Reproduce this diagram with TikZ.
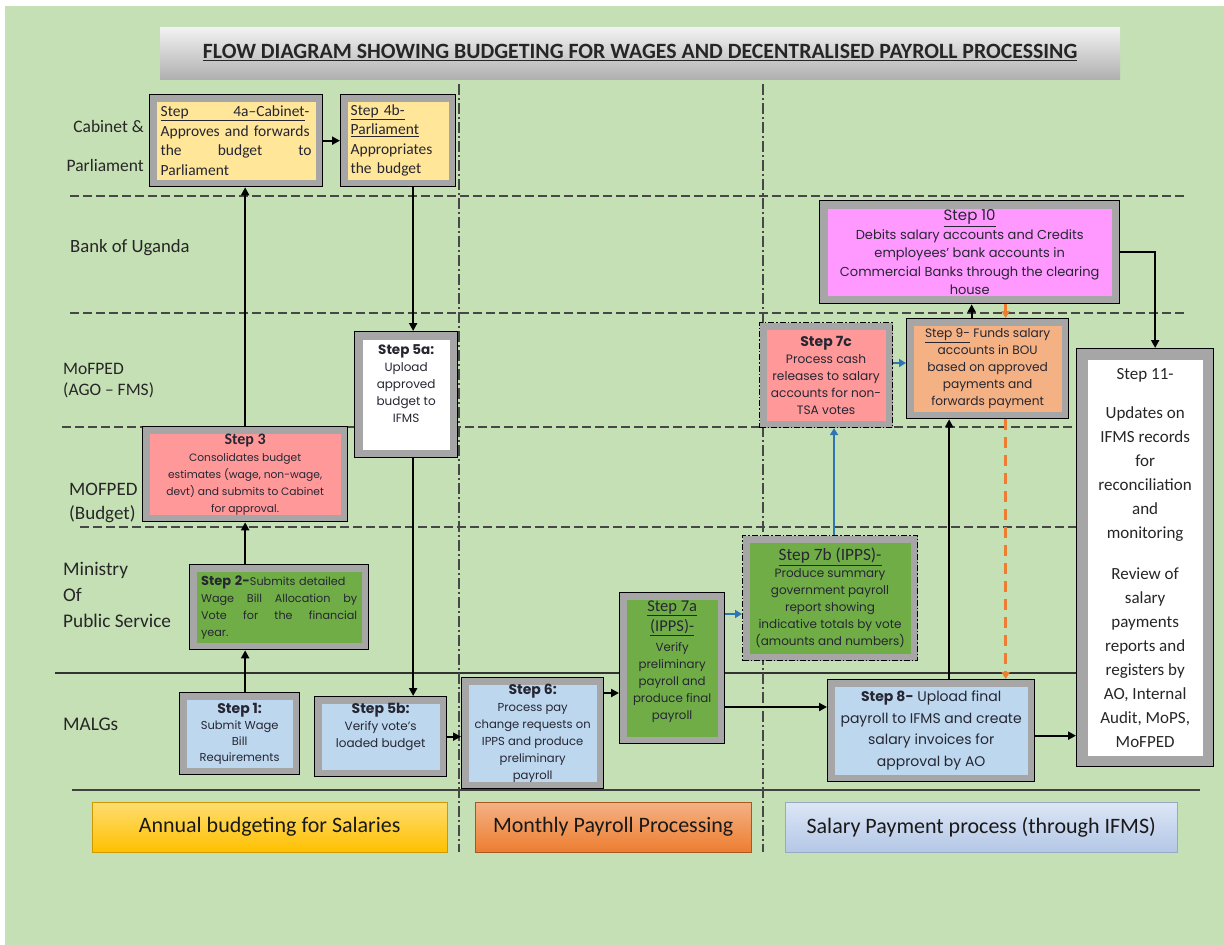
\documentclass[tikz,border=0pt]{standalone}
\usepackage{fontspec}
\setmainfont{Carlito}
\newfontfamily\gothic{Poppins}
\usetikzlibrary{arrows.meta}

\definecolor{bggreen}{HTML}{C5E0B4}
\definecolor{boxgray}{HTML}{A6A6A6}
\definecolor{lanegray}{HTML}{474747}
\definecolor{fillyellow}{HTML}{FFE699}
\definecolor{fillpink}{HTML}{FF99FF}
\definecolor{fillsalmon}{HTML}{FF9999}
\definecolor{fillorange}{HTML}{F4B183}
\definecolor{fillgreen}{HTML}{70AD47}
\definecolor{fillblue}{HTML}{BDD7EE}
\definecolor{arrblue}{HTML}{2E75B6}
\definecolor{arrorange}{HTML}{ED7D31}
\definecolor{txtdark}{HTML}{262633}
\definecolor{goldtop}{HTML}{FFDD70}
\definecolor{goldmid}{HTML}{FFC000}
\definecolor{paletop}{HTML}{DCE6F5}
\definecolor{palebot}{HTML}{B4C7E7}

\tikzset{
  ring/.store in=\ringw, ring=7pt,
  stepbox/.style={draw=black, line width=1.3pt, fill=boxgray, anchor=north west, inner sep=0pt, text=txtdark,
    path picture={\fill[#1] ([shift={(\ringw,\ringw)}]path picture bounding box.south west) rectangle ([shift={(-\ringw,-\ringw)}]path picture bounding box.north east);}},
  dashbox/.style={stepbox=#1, line width=1.1pt, dash pattern=on 6pt off 2pt on 1.5pt off 2pt},
  lane/.style={lanegray, line width=1.3pt, dash pattern=on 9pt off 4pt},
  divider/.style={lanegray, line width=1.3pt, dash pattern=on 11pt off 3pt on 2pt off 3pt},
  arr/.style={line width=2.3pt, -{Triangle[length=8pt,width=8pt]}},
  bluearr/.style={arrblue, line width=2.6pt, -{Triangle[length=7pt,width=8pt]}},
  orangearr/.style={arrorange, line width=2.4pt, dash pattern=on 11pt off 7pt, -{Triangle[length=7pt,width=8pt]}},
  lanelabel/.style={anchor=west, align=left, inner sep=0pt, text=black!85, font=\fontsize{19}{21}\selectfont},
  legend/.style={anchor=north west, minimum width=#1, minimum height=50pt, font=\fontsize{22}{24}\selectfont, text=black!90},
  gsmall/.style={font=\gothic\fontsize{#1}{17}\selectfont, align=center},
}

\begin{document}
\begin{tikzpicture}[x=1pt, y=-1pt]
  \useasboundingbox (0,0) rectangle (1224,945);
  \fill[bggreen] (5,6) rectangle (1224,945);
  \node[anchor=north west, minimum width=960pt, minimum height=52pt, top color=gray!10, bottom color=gray!62, font=\fontsize{21.8}{22}\bfseries, text=black!85] (title) at (160,27) {\raisebox{3pt}{\underline{FLOW DIAGRAM SHOWING BUDGETING FOR WAGES AND DECENTRALISED PAYROLL PROCESSING}}};

  % swim lanes and phase dividers
  \draw[lane] (70,196) -- (1185,196); \draw[lane] (70,313) -- (1185,313);
  \draw[lane] (62,427) -- (1076,427); \draw[lane] (80,527) -- (1076,527);
  \draw[black!80, line width=1.2pt] (55,673) -- (1076,673); \draw[black!75, line width=1.6pt] (72,790) -- (1200,790);
  \draw[divider] (459,84) -- (459,852); \draw[divider] (763,84) -- (763,852);

  \node[lanelabel, anchor=east, align=right, font=\fontsize{17.5}{39}\selectfont] (labcab) at (144,146) {Cabinet \&\\Parliament};
  \node[lanelabel, font=\fontsize{18.7}{21}\selectfont] (labbou) at (70,248) {Bank of Uganda};
  \node[lanelabel, font=\fontsize{17.5}{21}\selectfont] (labago) at (63,381) {MoFPED\\(AGO -- FMS)};
  \node[lanelabel, font=\fontsize{19}{24}\selectfont] (labbud) at (69,503) {MOFPED\\(Budget)};
  \node[lanelabel, font=\fontsize{19.3}{26}\selectfont] (labmps) at (63,595) {Ministry\\Of\\Public Service};
  \node[lanelabel, font=\fontsize{19.3}{21}\selectfont] (labmalg) at (63,724) {MALGs};

  % step boxes
  \node[stepbox=fillyellow, minimum width=173pt, minimum height=92pt, text width=151pt, align=left, font=\fontsize{15.5}{19.5}\selectfont] (s4a) at (149,94)
    {\underline{\makebox[144pt]{Step\hfill 4a–Cabinet}}-\\Approves and forwards\\\makebox[151pt]{the\hfill budget\hfill to}\\Parliament};
  \node[stepbox=fillyellow, minimum width=115pt, minimum height=92pt, text width=95pt, align=left, font=\fontsize{15.5}{19.5}\selectfont] (s4b) at (340,94)
    {\underline{Step 4b-}\\\underline{Parliament}\\Appropriates\\the budget};
  \node[stepbox=fillpink, ring=8pt, minimum width=300pt, minimum height=103pt, font=\gothic\fontsize{13}{18.5}\selectfont, align=center] (s10) at (819,200)
    {{\fontsize{15}{18}\selectfont\underline{Step 10}}\\Debits salary accounts and Credits\\employees’ bank accounts in\\Commercial Banks through the clearing\\house};
  \node[stepbox=white, ring=8pt, minimum width=103pt, minimum height=126pt, gsmall=12] (s5a) at (354,331)
    {{\fontsize{13.5}{17}\bfseries Step 5a:}\\Upload\\approved\\budget to\\IFMS\\\strut};
  \node[dashbox=fillsalmon, minimum width=133pt, minimum height=105pt, gsmall=12.2] (s7c) at (759,322)
    {{\fontsize{14}{17}\bfseries Step 7c}\\Process cash\\releases to salary\\accounts for non-\\TSA votes};
  \node[stepbox=fillorange, minimum width=162pt, minimum height=100pt, gsmall=12.2] (s9) at (906,318)
    {\underline{Step 9-} Funds salary\\accounts in BOU\\based on approved\\payments and\\forwards payment};
  \node[stepbox=white, ring=11pt, minimum width=137pt, minimum height=418pt, align=center, font=\fontsize{17}{24}\selectfont, text=black!85] (s11) at (1076,348)
    {Step 11-\\[15pt]Updates on\\IFMS records\\for\\reconciliation\\and\\monitoring\\[17pt]Review of\\salary\\payments\\reports and\\registers by\\AO, Internal\\Audit, MoPS,\\MoFPED};
  \node[stepbox=fillsalmon, minimum width=205pt, minimum height=95pt, gsmall=10.7] (s3) at (142,426)
    {{\rmfamily\fontsize{16}{17}\bfseries Step 3}\\Consolidates budget\\estimates (wage, non-wage,\\devt) and submits to Cabinet\\for approval.};
  \node[stepbox=fillgreen, minimum width=179pt, minimum height=85pt, text width=156pt, align=left, font=\gothic\fontsize{11.2}{17}\selectfont] (s2) at (189,564)
    {{\fontsize{13}{17}\bfseries Step 2-}Submits detailed\\\makebox[156pt]{Wage\hfill Bill\hfill Allocation\hfill by}\\\makebox[156pt]{Vote\hfill for\hfill the\hfill financial}\\year.};
  \node[dashbox=fillgreen, minimum width=175pt, minimum height=125pt, gsmall=12] (s7b) at (742,535)
    {{\rmfamily\fontsize{17.3}{17}\selectfont\underline{Step 7b (IPPS)-}}\\Produce summary\\government payroll\\report showing\\indicative totals by vote\\(amounts and numbers)};
  \node[stepbox=fillgreen, minimum width=105pt, minimum height=151pt, gsmall=11.8] (s7a) at (619,592)
    {{\rmfamily\fontsize{16.5}{17}\selectfont\underline{Step 7a}}\\[3pt]{\rmfamily\fontsize{16.5}{17}\selectfont\underline{(IPPS)-}}\\[3pt]Verify\\preliminary\\payroll and\\produce final\\payroll\\[-6pt]\strut};
  \node[stepbox=fillblue, minimum width=120pt, minimum height=82pt, font=\gothic\fontsize{11.5}{16}\selectfont, align=center] (s1) at (179,692)
    {{\fontsize{14}{16}\bfseries Step 1:}\\Submit Wage\\Bill\\Requirements};
  \node[stepbox=fillblue, minimum width=132pt, minimum height=80pt, font=\gothic\fontsize{12}{17}\selectfont, align=center] (s5b) at (314,696)
    {{\fontsize{14}{16}\bfseries Step 5b:}\\Verify vote’s\\loaded budget\\\strut};
  \node[stepbox=fillblue, minimum width=142pt, minimum height=111pt, font=\gothic\fontsize{11.6}{17}\selectfont, align=center] (s6) at (461,677)
    {{\fontsize{14}{16}\bfseries Step 6:}\\Process pay\\change requests on\\IPPS and produce\\preliminary\\payroll};
  \node[stepbox=fillblue, minimum width=207pt, minimum height=102pt, font=\gothic\fontsize{14}{21.5}\selectfont, align=center] (s8) at (827,679)
    {{\bfseries Step 8-} Upload final\\payroll to IFMS and create\\salary invoices for\\approval by AO};

  % phase legend
  \node[legend=355pt, top color=goldtop, bottom color=goldmid, draw=goldmid!80!black] (leg1) at (92,802) {Annual budgeting for Salaries};
  \node[legend=276pt, top color=fillorange, bottom color=arrorange, draw=arrorange!70!black] (leg2) at (475,802) {Monthly Payroll Processing};
  \node[legend=392pt, top color=paletop, bottom color=palebot, draw=palebot!85!black] (leg3) at (785,802) {Salary Payment process (through IFMS)};

  % flow
  \draw[arr] (s1.north -| s3) -- (s2.south -| s3);
  \draw[arr] (s2.north -| s3) -- (s3.south);
  \draw[arr] (s3.north) -- (s4a.south -| s3);
  \draw[arr] (s4a.east) -- (s4b.west);
  \draw[arr] ([xshift=15pt]s4b.south) -- ([xshift=15pt]s4b.south |- s5a.north);
  \draw[arr] ([xshift=7pt]s5a.south) -- ([xshift=7pt]s5a.south |- s5b.north);
  \draw[arr] (s5b.east) -- (s5b.east -| s6.west);
  \draw[arr] ([yshift=-16pt]s6.north east) -- ([yshift=-16pt]s6.north east -| s7a.west);
  \draw[bluearr] ([yshift=-22pt]s7a.north east) -- ([yshift=-22pt]s7a.north east -| s7b.west);
  \draw[arr] ([yshift=-115pt]s7a.north east) -- ([yshift=-115pt]s7a.north east -| s8.west);
  \draw[bluearr] ([xshift=4pt]s7b.north) -- ([xshift=4pt]s7b.north |- s7c.south);
  \draw[bluearr] ([yshift=-41pt]s7c.north east) -- ([yshift=-41pt]s7c.north east -| s9.west);
  \draw[arr] ([xshift=18pt]s8.north) -- ([xshift=18pt]s8.north |- s9.south);
  \draw[arr] ([xshift=-16pt]s9.north) -- ([xshift=-16pt]s9.north |- s10.south);
  \draw[orangearr] ([xshift=36pt]s10.south) -- ([xshift=36pt]s10.south |- s9.north);
  \draw[orangearr] ([xshift=18pt]s9.south) -- ([xshift=18pt]s9.south |- s8.north);
  \draw[arr] (s10.east) -| ([xshift=10pt]s11.north);
  \draw[arr] ([yshift=-5pt]s8.east) -- ([yshift=-5pt]s8.east -| s11.west);
\end{tikzpicture}
\end{document}
